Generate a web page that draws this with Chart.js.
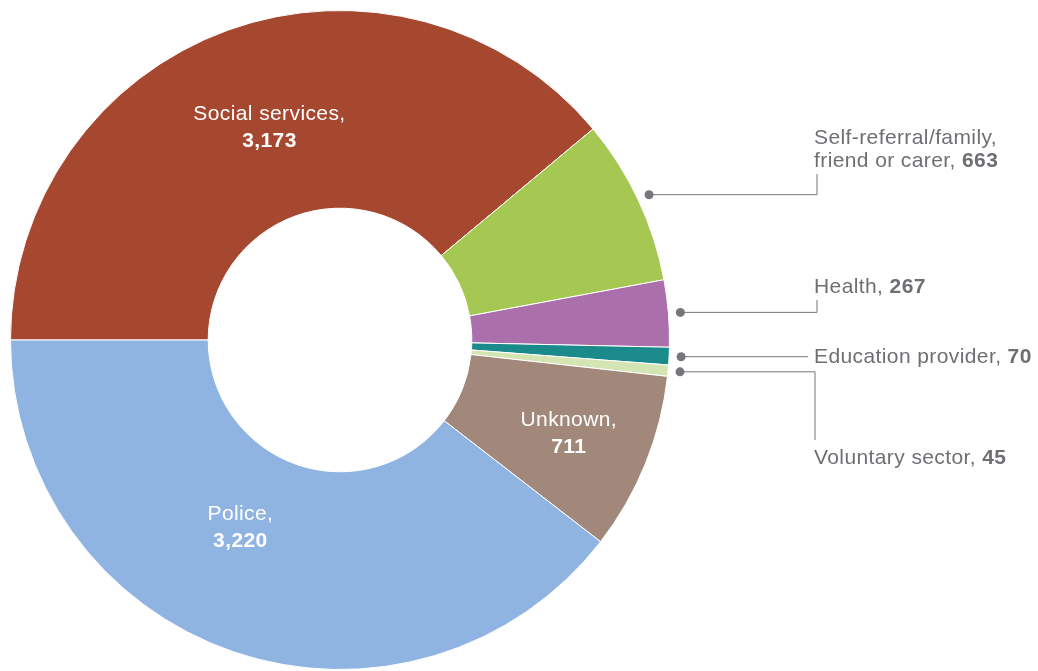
<!DOCTYPE html>
<html>
<head>
<meta charset="utf-8">
<script src="https://cdn.jsdelivr.net/npm/chart.js@4/dist/chart.umd.min.js"></script>
<style>
  html, body { margin: 0; padding: 0; background: #fff; }
  canvas { display: block; }
</style>
</head>
<body>
<canvas id="referralChart" width="1038" height="671"></canvas>
<script>
// Referral sources, clockwise from 9 o'clock
const sources = ['Social services', 'Self-referral/family, friend or carer', 'Health', 'Education provider', 'Voluntary sector', 'Unknown', 'Police'];
const referrals = [3173, 663, 267, 70, 45, 711, 3220];
const sliceColors = ['#a6482f', '#a5c853', '#ab6fac', '#1a8a8a', '#d5e4b3', '#a2887a', '#8fb4e2'];

// label placement: inside labels sit on the slice, outside ones get a leader line
const labelLayout = [
    { inside: true, dx: 8, dy: 4, lines: ['Social services,'] },
    { inside: false, lines: ['Self-referral/family,', 'friend or carer, '], textY: 138, elbowX: 817, elbowY: 174 },
    { inside: false, lines: ['Health, '], textY: 287, elbowX: 817, elbowY: 300 },
    { inside: false, lines: ['Education provider, '], textY: null, elbowX: 808, elbowY: null },
    { inside: false, lines: ['Voluntary sector, '], textY: 458, elbowX: 815, elbowY: 440 },
    { inside: true, dx: 15, dy: 7, lines: ['Unknown,'] },
    { inside: true, dx: -25, dy: -31, lines: ['Police,'] }
];

const FONT = '"Liberation Sans", Arial, Helvetica, sans-serif';
const GREY = '#6e6f73';

const sliceLabels = {
    id: 'sliceLabels',
    afterDraw(chart) {
        const ctx = chart.ctx;
        const arcs = chart.getDatasetMeta(0).data;
        ctx.save();
        ctx.letterSpacing = '0.4px';
        arcs.forEach((arc, i) => {
            const cfg = labelLayout[i];
            const value = referrals[i].toLocaleString('en-US');
            if (cfg.inside) {
                const pos = arc.tooltipPosition();
                const x = pos.x + cfg.dx, y = pos.y + cfg.dy;
                ctx.fillStyle = '#fff';
                ctx.textAlign = 'center';
                ctx.textBaseline = 'middle';
                ctx.font = '21px ' + FONT;
                ctx.fillText(cfg.lines[0], x, y - 13);
                ctx.font = 'bold 21px ' + FONT;
                ctx.fillText(value, x, y + 14);
                return;
            }
            const mid = (arc.startAngle + arc.endAngle) / 2;
            const r = arc.outerRadius + 12;
            const px = arc.x + Math.cos(mid) * r;
            const py = arc.y + Math.sin(mid) * r;

            // leader line
            ctx.strokeStyle = '#75777a';
            ctx.lineWidth = 1;
            ctx.beginPath();
            ctx.moveTo(px, py);
            ctx.lineTo(cfg.elbowX, py);
            if (cfg.elbowY !== null) ctx.lineTo(cfg.elbowX, cfg.elbowY);
            ctx.stroke();
            ctx.fillStyle = '#75777a';
            ctx.beginPath();
            ctx.arc(px, py, 4.5, 0, Math.PI * 2);
            ctx.fill();

            // text, last line ends in the bold value
            const tx = 814;
            const ty = cfg.textY === null ? py : cfg.textY;
            ctx.fillStyle = GREY;
            ctx.textAlign = 'left';
            ctx.textBaseline = 'middle';
            cfg.lines.forEach((line, k) => {
                const ly = ty + k * 23;
                ctx.font = '21px ' + FONT;
                ctx.fillText(line, tx, ly);
                if (k === cfg.lines.length - 1) {
                    const w = ctx.measureText(line).width;
                    ctx.font = 'bold 21px ' + FONT;
                    ctx.fillText(value, tx + w, ly);
                }
            });
        });
        ctx.restore();
    }
};

new Chart(document.getElementById('referralChart'), {
    type: 'doughnut',
    data: {
        labels: sources,
        datasets: [{
            data: referrals,
            backgroundColor: sliceColors,
            borderColor: '#fff',
            borderWidth: 1
        }]
    },
    options: {
        responsive: false,
        animation: false,
        rotation: -90,
        cutout: '40%',
        layout: { padding: { left: 10, top: 10, right: 368, bottom: 1 } },
        plugins: {
            legend: { display: false },
            tooltip: { enabled: false }
        }
    },
    plugins: [sliceLabels]
});
</script>
</body>
</html>
